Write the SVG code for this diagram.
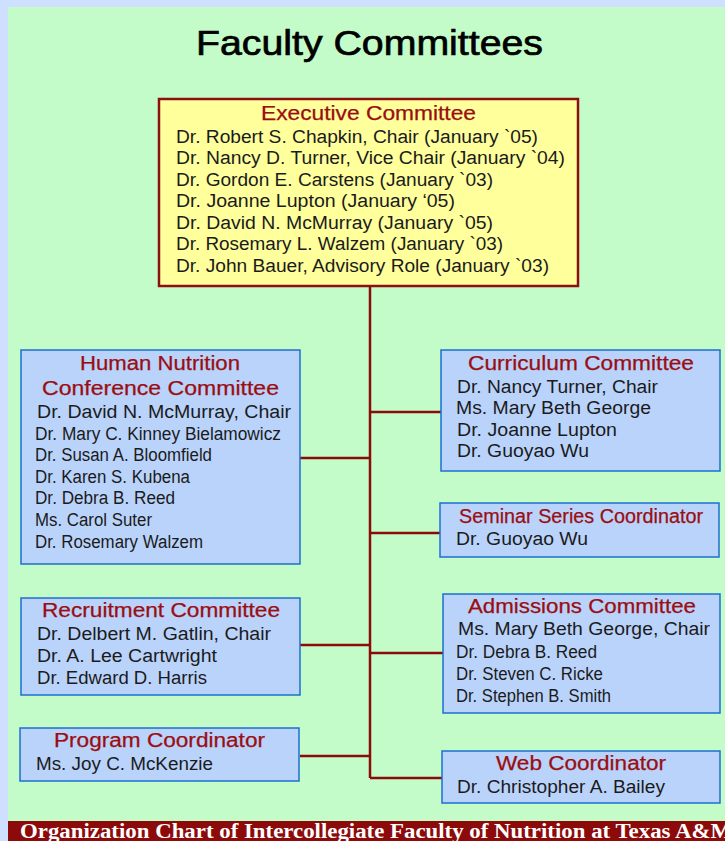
<svg xmlns="http://www.w3.org/2000/svg" width="725" height="841" viewBox="0 0 725 841">
<style>
.t{font-family:"Liberation Sans",Arial,sans-serif;fill:#9a0e12;font-size:19.5px;stroke:#9a0e12;stroke-width:0.25}
.m{font-family:"Liberation Sans",Arial,sans-serif;fill:#1b1b1b;font-size:18px}
.box{fill:#bad3fb;stroke:#1b6fd0;stroke-width:1.5}
.conn{stroke:#8c0a0a;stroke-width:2.5;fill:none}
</style>
<rect x="0" y="0" width="725" height="841" fill="#cfdfff"/>
<rect x="8" y="7" width="717" height="834" fill="#c3fcc8"/>
<text x="369.5" y="55" text-anchor="middle" font-family="'Liberation Sans',Arial,sans-serif" font-size="35" fill="#000" stroke="#000" stroke-width="0.7" textLength="347" lengthAdjust="spacingAndGlyphs">Faculty Committees</text>

<g id="connectors">
<path class="conn" d="M370 286 V778"/>
<path class="conn" d="M300 458 H370"/>
<path class="conn" d="M370 412 H441"/>
<path class="conn" d="M370 533 H440"/>
<path class="conn" d="M300 645 H370"/>
<path class="conn" d="M370 653 H443"/>
<path class="conn" d="M300 756 H370"/>
<path class="conn" d="M370 778 H442"/>
</g>

<g id="executive">
<rect x="159" y="99" width="419" height="187" fill="#ffff9c" stroke="#8c1010" stroke-width="2.5"/>
<text class="t" x="368.5" y="120" text-anchor="middle" textLength="215" lengthAdjust="spacingAndGlyphs">Executive Committee</text>
<text class="m" x="176" y="143" textLength="362" lengthAdjust="spacingAndGlyphs">Dr. Robert S. Chapkin, Chair (January `05)</text>
<text class="m" x="176" y="164" textLength="389" lengthAdjust="spacingAndGlyphs">Dr. Nancy D. Turner, Vice Chair (January `04)</text>
<text class="m" x="176" y="186" textLength="317" lengthAdjust="spacingAndGlyphs">Dr. Gordon E. Carstens (January `03)</text>
<text class="m" x="176" y="207" textLength="279" lengthAdjust="spacingAndGlyphs">Dr. Joanne Lupton (January ‘05)</text>
<text class="m" x="176" y="229" textLength="317" lengthAdjust="spacingAndGlyphs">Dr. David N. McMurray (January `05)</text>
<text class="m" x="176" y="250" textLength="327" lengthAdjust="spacingAndGlyphs">Dr. Rosemary L. Walzem (January `03)</text>
<text class="m" x="176" y="272" textLength="373" lengthAdjust="spacingAndGlyphs">Dr. John Bauer, Advisory Role (January `03)</text>
</g>

<g id="human-nutrition">
<rect class="box" x="21" y="350" width="279" height="214"/>
<text class="t" x="160" y="370" text-anchor="middle" textLength="160" lengthAdjust="spacingAndGlyphs">Human Nutrition</text>
<text class="t" x="160.5" y="395" text-anchor="middle" textLength="237" lengthAdjust="spacingAndGlyphs">Conference Committee</text>
<text class="m" x="37" y="418" textLength="254" lengthAdjust="spacingAndGlyphs">Dr. David N. McMurray, Chair</text>
<text class="m" x="35" y="440" textLength="246" lengthAdjust="spacingAndGlyphs">Dr. Mary C. Kinney Bielamowicz</text>
<text class="m" x="35" y="461" textLength="177" lengthAdjust="spacingAndGlyphs">Dr. Susan A. Bloomfield</text>
<text class="m" x="35" y="483" textLength="155" lengthAdjust="spacingAndGlyphs">Dr. Karen S. Kubena</text>
<text class="m" x="35" y="504" textLength="140" lengthAdjust="spacingAndGlyphs">Dr. Debra B. Reed</text>
<text class="m" x="35" y="526" textLength="117" lengthAdjust="spacingAndGlyphs">Ms. Carol Suter</text>
<text class="m" x="35" y="548" textLength="168" lengthAdjust="spacingAndGlyphs">Dr. Rosemary Walzem</text>
</g>

<g id="curriculum">
<rect class="box" x="441" y="350" width="279" height="121"/>
<text class="t" x="581" y="370" text-anchor="middle" textLength="226" lengthAdjust="spacingAndGlyphs">Curriculum Committee</text>
<text class="m" x="457" y="393" textLength="201" lengthAdjust="spacingAndGlyphs">Dr. Nancy Turner, Chair</text>
<text class="m" x="456" y="414" textLength="195" lengthAdjust="spacingAndGlyphs">Ms. Mary Beth George</text>
<text class="m" x="457" y="436" textLength="160" lengthAdjust="spacingAndGlyphs">Dr. Joanne Lupton</text>
<text class="m" x="457" y="457" textLength="132" lengthAdjust="spacingAndGlyphs">Dr. Guoyao Wu</text>
</g>

<g id="seminar">
<rect class="box" x="440" y="503" width="279" height="54"/>
<text class="t" x="581" y="523" text-anchor="middle" textLength="244" lengthAdjust="spacingAndGlyphs">Seminar Series Coordinator</text>
<text class="m" x="456" y="545" textLength="132" lengthAdjust="spacingAndGlyphs">Dr. Guoyao Wu</text>
</g>

<g id="recruitment">
<rect class="box" x="21" y="598" width="279" height="97"/>
<text class="t" x="161" y="617" text-anchor="middle" textLength="238" lengthAdjust="spacingAndGlyphs">Recruitment Committee</text>
<text class="m" x="37" y="640" textLength="234" lengthAdjust="spacingAndGlyphs">Dr. Delbert M. Gatlin, Chair</text>
<text class="m" x="37" y="662" textLength="180" lengthAdjust="spacingAndGlyphs">Dr. A. Lee Cartwright</text>
<text class="m" x="37" y="684" textLength="170" lengthAdjust="spacingAndGlyphs">Dr. Edward D. Harris</text>
</g>

<g id="admissions">
<rect class="box" x="443" y="594" width="277" height="119"/>
<text class="t" x="582" y="613" text-anchor="middle" textLength="228" lengthAdjust="spacingAndGlyphs">Admissions Committee</text>
<text class="m" x="458" y="635" textLength="252" lengthAdjust="spacingAndGlyphs">Ms. Mary Beth George, Chair</text>
<text class="m" x="456" y="658" textLength="141" lengthAdjust="spacingAndGlyphs">Dr. Debra B. Reed</text>
<text class="m" x="456" y="680" textLength="147" lengthAdjust="spacingAndGlyphs">Dr. Steven C. Ricke</text>
<text class="m" x="456" y="702" textLength="155" lengthAdjust="spacingAndGlyphs">Dr. Stephen B. Smith</text>
</g>

<g id="program">
<rect class="box" x="20" y="728" width="279" height="53"/>
<text class="t" x="159.5" y="747" text-anchor="middle" textLength="211" lengthAdjust="spacingAndGlyphs">Program Coordinator</text>
<text class="m" x="36" y="770" textLength="177" lengthAdjust="spacingAndGlyphs">Ms. Joy C. McKenzie</text>
</g>

<g id="web">
<rect class="box" x="442" y="751" width="278" height="52"/>
<text class="t" x="581" y="770" text-anchor="middle" textLength="170" lengthAdjust="spacingAndGlyphs">Web Coordinator</text>
<text class="m" x="457" y="793" textLength="208" lengthAdjust="spacingAndGlyphs">Dr. Christopher A. Bailey</text>
</g>

<rect x="8" y="821" width="717" height="20" fill="#8c0a0a"/>
<text x="20" y="838" font-family="'Liberation Serif','Times New Roman',serif" font-weight="bold" font-size="20" fill="#ffffff" textLength="712" lengthAdjust="spacingAndGlyphs">Organization Chart of  Intercollegiate Faculty of Nutrition at Texas A&amp;M</text>
</svg>
